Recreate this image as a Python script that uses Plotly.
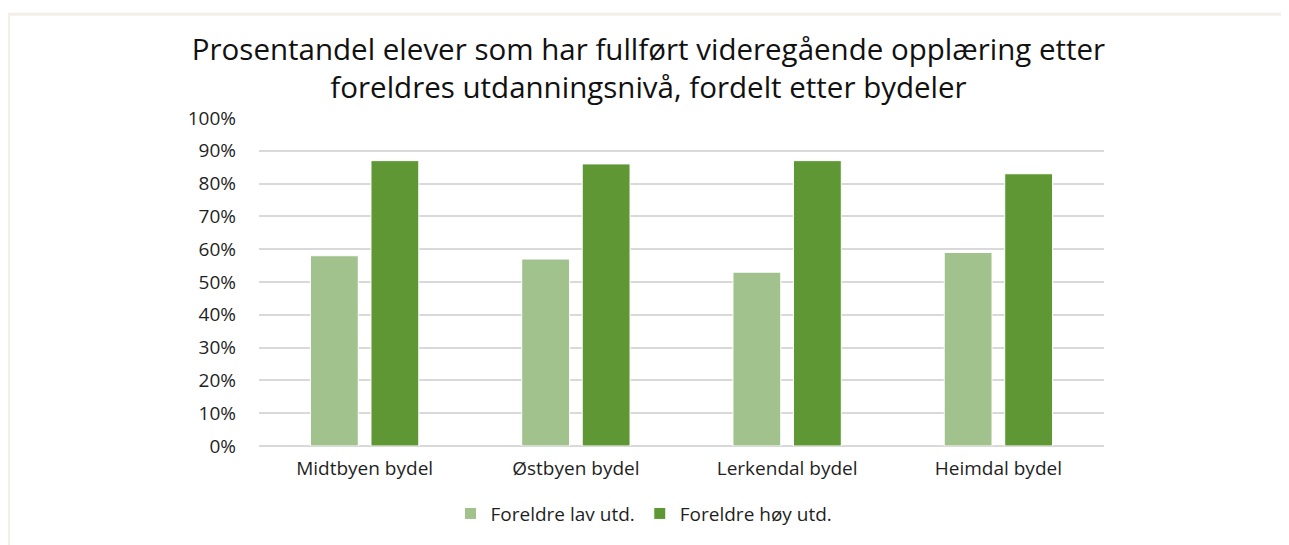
import plotly.graph_objects as go

categories = ["Midtbyen bydel", "Østbyen bydel", "Lerkendal bydel", "Heimdal bydel"]
lav_utd = [58, 57, 53, 59]
hoy_utd = [87, 86, 87, 83]
series_names = ["Foreldre lav utd.", "Foreldre høy utd."]
tick_vals = [0, 10, 20, 30, 40, 50, 60, 70, 80, 90, 100]
tick_text = [f"{v}%" for v in tick_vals]
title_text = "Prosentandel elever som har fullført videregående opplæring etter<br>foreldres utdanningsnivå, fordelt etter bydeler"

FONT = "Open Sans, Noto Sans, DejaVu Sans, sans-serif"
TXT = "#1f1f1f"

# page has an 8px body margin; figure is sized to fit
W, H = 1281, 537
L, R, T, B = 251, 185, 110, 97
PW, PH = W - L - R, H - T - B

fig = go.Figure()
fig.add_trace(go.Bar(x=categories, y=lav_utd, name=series_names[0],
                     marker=dict(color="#A2C28D", line=dict(color="#ffffff", width=1))))
fig.add_trace(go.Bar(x=categories, y=hoy_utd, name=series_names[1],
                     marker=dict(color="#5F9735", line=dict(color="#ffffff", width=1))))

fig.update_layout(
    width=W, height=H,
    margin=dict(l=L, r=R, t=T, b=B, pad=0),
    paper_bgcolor="white", plot_bgcolor="white",
    font=dict(family=FONT, color=TXT, size=19),
    barmode="group", bargap=0.427, bargroupgap=0.21,
    title=dict(text=title_text, x=0.5, xref="container", xanchor="center",
               y=0.903, yanchor="middle",
               font=dict(family=FONT, size=29.5, color="#111111")),
    legend=dict(orientation="h", x=(636 - L) / PW, xanchor="center",
                y=-68 / PH, yanchor="middle",
                font=dict(family=FONT, size=19, color=TXT), itemwidth=30,
                traceorder="normal"),
    xaxis=dict(showgrid=False, showline=False, ticks="", ticklabelstandoff=9,
               tickfont=dict(family=FONT, size=19, color=TXT)),
    yaxis=dict(range=[0, 100], tickvals=tick_vals, ticktext=tick_text,
               showgrid=True, gridcolor="#D9D9D9", gridwidth=1.5,
               zeroline=True, zerolinecolor="#D9D9D9", zerolinewidth=1.5,
               showline=False, ticks="", ticklabelstandoff=22,
               tickfont=dict(family=FONT, size=19, color=TXT)),
    shapes=[dict(type="rect", xref="paper", yref="paper",
                 x0=(0.5 - L) / PW, x1=(W - 1 - L) / PW,
                 y0=(PH - (H + 20 - T)) / PH, y1=(PH - (5.5 - T)) / PH,
                 line=dict(color="#F2EFE9", width=3), layer="below")],
)

fig.write_html("out.html")
